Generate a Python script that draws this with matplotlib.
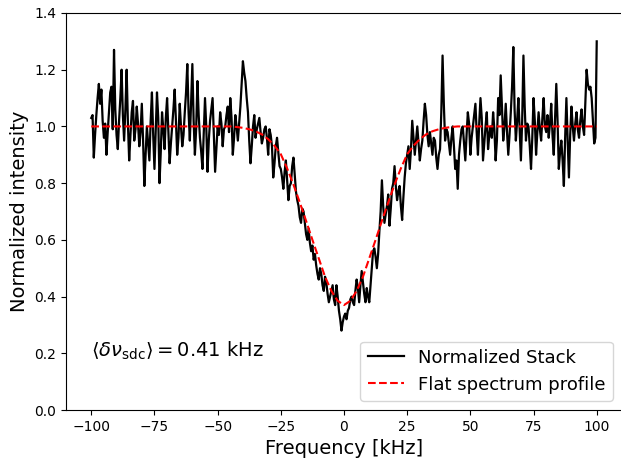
import matplotlib
matplotlib.use("Agg")
import matplotlib.pyplot as plt
import numpy as np

# stacked spectrum, 0.5 kHz steps from -100 to 100 kHz
freq = np.arange(-100, 100.25, 0.5)
stack = [
    1.03, 1.04, 0.89, 0.97, 1.04, 1.10, 1.15, 1.08, 1.13, 1.02,   # -100
    0.96, 1.01, 0.90, 0.98, 1.05, 1.12, 1.14, 0.99, 1.27, 1.06,   # -95
    0.97, 0.92, 1.02, 1.10, 1.20, 1.04, 0.95, 1.06, 1.20, 1.01,   # -90
    0.88, 0.97, 1.05, 1.09, 0.95, 0.99, 1.07, 1.01, 0.93, 0.98,   # -85
    1.08, 0.95, 0.79, 0.90, 1.00, 0.94, 0.88, 1.02, 1.12, 0.97,   # -80
    0.85, 0.99, 1.12, 1.03, 0.80, 0.91, 1.05, 0.99, 0.92, 1.03,   # -75
    1.10, 0.98, 0.87, 0.94, 1.00, 1.06, 1.13, 1.02, 0.90, 0.96,   # -70
    1.08, 1.00, 0.93, 0.97, 1.05, 1.12, 1.22, 1.05, 0.95, 1.09,   # -65
    1.22, 1.02, 0.90, 0.99, 1.16, 1.04, 0.96, 0.91, 0.85, 0.97,   # -60
    1.10, 1.00, 0.84, 0.95, 1.02, 1.06, 1.10, 0.97, 0.84, 0.92,   # -55
    1.00, 0.97, 1.05, 1.01, 0.93, 0.99, 1.00, 1.04, 1.07, 0.98,   # -50
    1.10, 1.03, 0.90, 0.96, 1.04, 1.00, 0.95, 1.01, 1.07, 1.15,   # -45
    1.23, 1.19, 1.16, 1.10, 1.05, 0.95, 0.87, 0.93, 1.00, 1.04,   # -40
    0.96, 0.99, 1.01, 1.03, 0.98, 0.94, 0.96, 0.99, 1.00, 0.96,   # -35
    0.90, 0.99, 0.97, 0.93, 0.82, 0.87, 0.93, 0.96, 0.91, 0.86,   # -30
    0.85, 0.82, 0.78, 0.84, 0.88, 0.81, 0.74, 0.79, 0.80, 0.86,   # -25
    0.89, 0.83, 0.77, 0.74, 0.72, 0.68, 0.66, 0.71, 0.70, 0.66,   # -20
    0.62, 0.60, 0.64, 0.59, 0.56, 0.58, 0.53, 0.55, 0.51, 0.48,   # -15
    0.46, 0.50, 0.48, 0.44, 0.42, 0.47, 0.45, 0.41, 0.38, 0.40,   # -10
    0.42, 0.44, 0.39, 0.37, 0.44, 0.40, 0.35, 0.32, 0.28, 0.31,   # -5
    0.33, 0.34, 0.32, 0.35, 0.36, 0.39, 0.40, 0.38, 0.37, 0.42,   # 0
    0.46, 0.43, 0.38, 0.44, 0.49, 0.45, 0.41, 0.38, 0.43, 0.40,   # 5
    0.38, 0.44, 0.50, 0.56, 0.57, 0.54, 0.50, 0.55, 0.63, 0.70,   # 10
    0.81, 0.72, 0.66, 0.69, 0.72, 0.76, 0.65, 0.71, 0.78, 0.80,   # 15
    0.86, 0.79, 0.74, 0.77, 0.79, 0.72, 0.67, 0.75, 0.82, 0.87,   # 20
    0.90, 0.93, 0.85, 0.92, 1.02, 0.96, 0.90, 0.95, 1.00, 0.94,   # 25
    0.88, 0.92, 0.95, 1.02, 1.08, 1.04, 0.97, 0.93, 0.98, 0.94,   # 30
    0.90, 0.96, 0.95, 0.89, 0.85, 0.90, 0.92, 1.05, 1.25, 1.08,   # 35
    0.95, 0.99, 0.98, 0.94, 0.90, 0.96, 1.00, 0.93, 0.85, 0.88,   # 40
    0.78, 0.90, 0.95, 0.99, 1.00, 0.94, 0.88, 0.97, 1.05, 1.01,   # 45
    0.90, 0.96, 1.00, 1.04, 1.08, 0.98, 0.90, 1.01, 1.10, 1.03,   # 50
    0.88, 0.94, 1.00, 1.05, 0.92, 0.97, 1.00, 0.96, 1.05, 0.99,   # 55
    0.88, 0.95, 1.10, 1.04, 1.18, 1.07, 0.95, 1.00, 1.08, 0.98,   # 60
    0.90, 0.97, 1.05, 1.14, 1.28, 1.06, 0.95, 1.02, 1.10, 0.99,   # 65
    0.88, 1.02, 1.25, 1.07, 0.95, 1.01, 1.00, 0.93, 0.85, 0.96,   # 70
    1.10, 1.02, 0.90, 0.98, 1.05, 0.99, 0.95, 1.03, 1.10, 1.00,   # 75
    0.98, 1.04, 0.96, 1.01, 1.08, 0.97, 0.90, 1.03, 1.15, 1.02,   # 80
    0.85, 0.91, 0.95, 0.88, 0.79, 0.96, 1.10, 0.95, 0.82, 0.97,   # 85
    1.07, 1.00, 0.95, 1.01, 1.05, 0.99, 0.96, 1.02, 1.06, 1.00,   # 90
    0.97, 1.09, 1.20, 1.15, 1.13, 1.14, 1.10, 1.02, 0.94, 0.96,   # 95
    1.30,                                                         # 100
]

# flat spectrum profile, 2.5 kHz steps (symmetric about 0)
prof_freq = np.arange(-100, 100.1, 2.5)
prof_half = [1.0] * 23 + [0.998, 0.995, 0.99, 0.983, 0.972, 0.955, 0.932,
                          0.902, 0.852, 0.795, 0.732, 0.667, 0.60, 0.535,
                          0.47, 0.42, 0.385]
profile = prof_half + [0.37] + prof_half[::-1]

fig = plt.figure(figsize=(6.21, 4.59), dpi=100)
ax = fig.add_axes([66 / 621, 49 / 459, 556 / 621, 397 / 459])

ax.plot(freq, stack, color='black', lw=1.6, label='Normalized Stack')
ax.plot(prof_freq, profile, color='red', ls='--', lw=1.5, label='Flat spectrum profile')

ax.set_xlim(-110, 110)
ax.set_ylim(0, 1.4)
ax.set_xlabel('Frequency [kHz]', fontsize=14)
ax.set_ylabel('Normalized intensity', fontsize=14)

ax.text(-100, 0.21, r'$\langle \delta\nu_{\rm sdc} \rangle = 0.41$ kHz',
        fontsize=14, va='center', ha='left')
ax.legend(loc='lower right', fontsize=13)

fig.savefig('out.png', dpi=100)
